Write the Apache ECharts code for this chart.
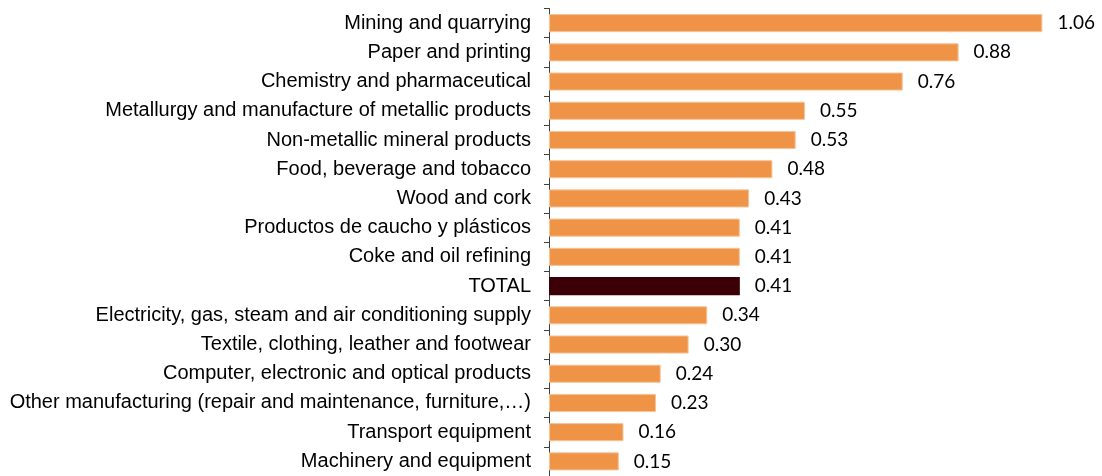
<!DOCTYPE html>
<html>
<head>
<meta charset="utf-8">
<script src="https://cdn.jsdelivr.net/npm/echarts@6/dist/echarts.min.js"></script>
<style>
  html, body { margin: 0; padding: 0; background: #ffffff; }
  #chart { width: 1102px; height: 476px; }
</style>
</head>
<body>
<div id="chart"></div>
<script>
// sectors, top to bottom
const categories = [
  'Mining and quarrying',
  'Paper and printing',
  'Chemistry and pharmaceutical',
  'Metallurgy and manufacture of metallic products',
  'Non-metallic mineral products',
  'Food, beverage and tobacco',
  'Wood and cork',
  'Productos de caucho y plásticos',
  'Coke and oil refining',
  'TOTAL',
  'Electricity, gas, steam and air conditioning supply',
  'Textile, clothing, leather and footwear',
  'Computer, electronic and optical products',
  'Other manufacturing (repair and maintenance, furniture,…)',
  'Transport equipment',
  'Machinery and equipment'
];
const values = [1.06, 0.88, 0.76, 0.55, 0.53, 0.48, 0.43, 0.41, 0.41, 0.41, 0.34, 0.30, 0.24, 0.23, 0.16, 0.15];
const highlight = 'TOTAL';

const chart = echarts.init(document.getElementById('chart'));

const barData = values.map((v, i) => ({
  value: v,
  itemStyle: categories[i] === highlight
    ? { color: '#3a0006', borderWidth: 0 }
    : { color: '#ef9447', borderColor: '#f6c49a', borderWidth: 1 }
}));

chart.setOption({
  animation: false,
  grid: {
    left: 549,
    top: 8.5,
    width: 512,
    height: 470,
    containLabel: false
  },
  xAxis: {
    type: 'value',
    min: 0,
    max: 1.1,
    show: false
  },
  yAxis: {
    type: 'category',
    inverse: true,
    data: categories,
    axisLine: { show: true, lineStyle: { color: '#404040', width: 1 } },
    axisTick: { show: true, length: 5, lineStyle: { color: '#404040' } },
    axisLabel: {
      margin: 18,
      padding: [3, 0, 0, 0],
      fontFamily: 'Liberation Sans, Arial, sans-serif',
      fontSize: 20,
      color: '#000000'
    }
  },
  series: [{
    type: 'bar',
    data: barData,
    barCategoryGap: '38%',
    label: {
      show: true,
      position: 'right',
      distance: 15,
      padding: [3, 0, 0, 0],
      formatter: p => p.value.toFixed(2),
      fontFamily: 'Lato, sans-serif',
      fontSize: 19,
      color: '#000000'
    }
  }]
});
</script>
</body>
</html>
